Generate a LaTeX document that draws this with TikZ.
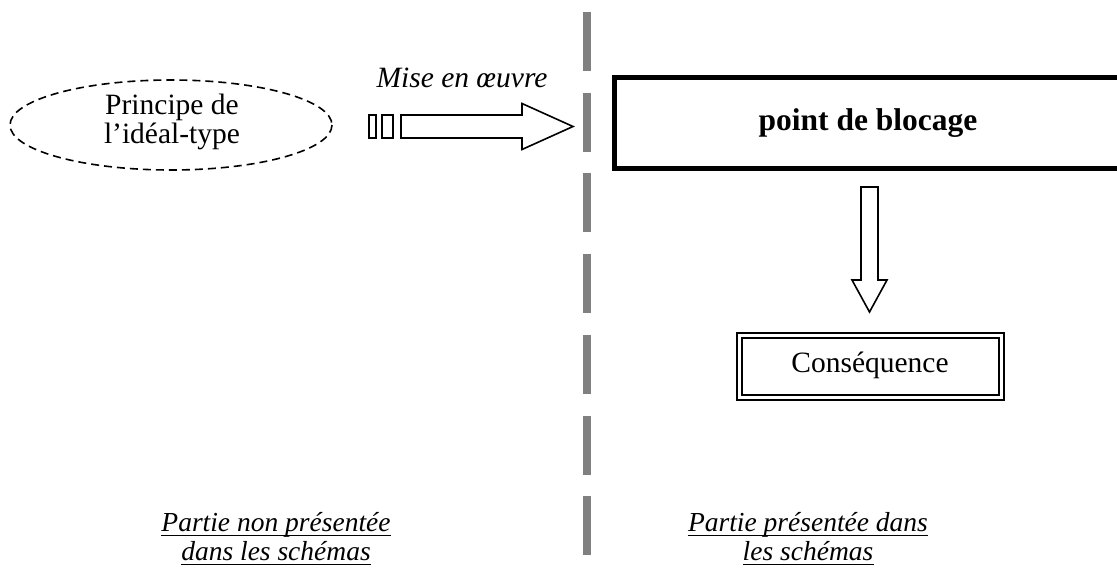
\documentclass[tikz,border=0pt]{standalone}
\usepackage{fontspec}
\setmainfont{Liberation Serif}

\tikzset{
  txt/.style={font=\fontsize{29.5}{27}\selectfont, inner sep=0pt},
  boldtxt/.style={font=\fontsize{31.5}{30}\selectfont\bfseries, inner sep=0pt},
  blockarrow/.style={draw=black, line width=1.6pt, fill=white, line join=miter},
  divider/.style={draw=black!50, line width=8pt, dash pattern=on 59pt off 21.7pt},
  mainbox/.style={draw=black, line width=5pt},
  dblbox/.style={draw=black, double=white, line width=2pt, double distance=3pt},
  caption/.style={font=\fontsize{27.5}{29}\selectfont\itshape, inner sep=0pt},
  uline/.style={draw=black, line width=1.6pt}
}
% underline drawn beneath a caption node
\newcommand{\underlinenode}[1]{\draw[uline] ([yshift=-4.5pt]#1.base west) -- ([yshift=-4.5pt]#1.base east);}

\begin{document}
\begin{tikzpicture}[x=1pt, y=-1pt]
  \useasboundingbox (0,0) rectangle (1117,570);

  % dashed ellipse with its two-line label
  \draw[line width=1.6pt, dash pattern=on 8pt off 5pt] (171,125) ellipse [x radius=161, y radius=45];
  \node[txt, anchor=base] (p1) at (172,114.5) {Principe de};
  \node[txt, anchor=base] (p2) at (172,143.5) {l’idéal-type};

  % label over the horizontal block arrow
  \node[txt, font=\fontsize{29.5}{27}\selectfont\itshape, anchor=base] (mise) at (462,87) {Mise en œuvre};

  % horizontal block arrow with two tail blocks
  \draw[blockarrow] (369,115) rectangle (376,138);
  \draw[blockarrow] (382,115) rectangle (393,138);
  \draw[blockarrow] (401,115) -- (522,115) -- (522,103.5) -- (573,126.5)
        -- (522,149.5) -- (522,138) -- (401,138) -- cycle;

  % grey dashed divider
  \draw[divider] (587,12) -- (587,590);

  % main box, running off the right edge
  \draw[mainbox] (614,77.5) rectangle (1120,168.5);
  \node[boldtxt, anchor=base] (block) at (868,130) {point de blocage};

  % vertical block arrow
  \draw[blockarrow] (861,187) -- (878,187) -- (878,280) -- (887,280) -- (869.5,312)
        -- (852,280) -- (861,280) -- cycle;

  % double-framed box
  \draw[dblbox] (739.2,335.5) rectangle (1001.2,397.8);
  \node[txt, anchor=base] (cons) at (870,372) {Conséquence};

  % underlined captions under each half
  \node[caption, anchor=base] (l1) at (276,531) {Partie non présentée};
  \node[caption, anchor=base] (l2) at (276,560) {dans les schémas};
  \node[caption, anchor=base] (r1) at (808,531) {Partie présentée dans};
  \node[caption, anchor=base] (r2) at (808,560) {les schémas};
  \underlinenode{l1}
  \underlinenode{l2}
  \underlinenode{r1}
  \underlinenode{r2}
\end{tikzpicture}
\end{document}
